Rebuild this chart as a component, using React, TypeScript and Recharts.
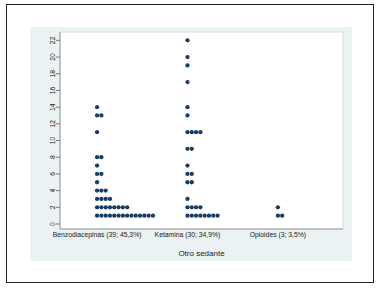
import React from "react";
import { ScatterChart, Scatter, XAxis, YAxis, ReferenceArea, Label } from "recharts";

const categories = ["Benzodiacepinas (39; 45,3%)", "Ketamina (30; 34,9%)", "Opioides (3; 3,5%)"];

const benzoValues = [1, 2, 3, 4, 5, 6, 7, 8, 11, 13, 14];
const benzoCounts = [14, 8, 4, 3, 1, 2, 1, 2, 1, 2, 1];

const ketaminaValues = [1, 2, 3, 5, 6, 7, 9, 11, 13, 14, 17, 19, 20, 22];
const ketaminaCounts = [8, 4, 1, 2, 2, 1, 2, 4, 1, 1, 1, 1, 1, 1];

const opioidesValues = [1, 2];
const opioidesCounts = [2, 1];

const yTicks = [0, 2, 4, 6, 8, 10, 12, 14, 16, 18, 20, 22];

const groups = [
  { values: benzoValues, counts: benzoCounts },
  { values: ketaminaValues, counts: ketaminaCounts },
  { values: opioidesValues, counts: opioidesCounts },
];

const points: { x: number; y: number; k: number }[] = [];
groups.forEach((g, gi) => {
  g.values.forEach((v, vi) => {
    for (let k = 0; k < g.counts[vi]; k++) {
      points.push({ x: gi + 1, y: v, k });
    }
  });
});

const DOT_COLOR = "#1a3d63";
const FONT = "'Liberation Sans', Arial, sans-serif";

const Dot = (props: any) => {
  const { cx, cy, payload } = props;
  if (cx == null || cy == null) return null;
  return <circle cx={cx + payload.k * 4.3} cy={cy} r={2.15} fill={DOT_COLOR} />;
};

const YTick = (props: any) => {
  const { x, y, payload } = props;
  return (
    <text
      x={x}
      y={y}
      transform={`rotate(-90, ${x}, ${y})`}
      textAnchor="middle"
      fontSize={6.8}
      fill="#222"
      fontFamily={FONT}
    >
      {payload.value}
    </text>
  );
};

export default function App() {
  return (
    <div style={{ position: "absolute", left: 0, top: 0, width: 380, height: 291, background: "#fff" }}>
      <div
        style={{
          position: "absolute",
          left: 6,
          top: 4,
          width: 368,
          height: 279,
          border: "1px solid #222",
          boxSizing: "border-box",
        }}
      />
      <div
        style={{
          position: "absolute",
          left: 30,
          top: 27,
          width: 322,
          height: 234,
          background: "#eaf2f3",
        }}
      />
      <div style={{ position: "absolute", left: 0, top: 0 }}>
        <ScatterChart width={380} height={291} margin={{ top: 32, right: 37, bottom: 32, left: 0 }}>
          <ReferenceArea
            x1={0.59}
            x2={3.72}
            y1={-0.6}
            y2={23}
            fill="#ffffff"
            fillOpacity={1}
            stroke="#d8dcdc"
            strokeWidth={1}
            ifOverflow="extendDomain"
          />
          <XAxis
            type="number"
            dataKey="x"
            domain={[0.59, 3.72]}
            ticks={[1, 2, 3]}
            interval={0}
            tickFormatter={(v: number) => categories[v - 1]}
            tickLine={false}
            tickSize={0}
            axisLine={{ stroke: "#9a9a9a" }}
            tick={{ fontSize: 6.8, fill: "#222", fontFamily: FONT }}
            tickMargin={3}
            height={30}
            allowDataOverflow
          >
            <Label
              value="Otro sedante"
              position="insideBottom"
              offset={3}
              style={{ fontSize: 8, fill: "#222", fontFamily: FONT }}
            />
          </XAxis>
          <YAxis
            type="number"
            dataKey="y"
            domain={[-0.6, 23]}
            ticks={yTicks}
            interval={0}
            width={60}
            tickSize={4}
            tickMargin={1}
            tickLine={{ stroke: "#777" }}
            axisLine={{ stroke: "#9a9a9a" }}
            tick={<YTick />}
            allowDataOverflow
          />
          <Scatter data={points} shape={<Dot />} isAnimationActive={false} />
        </ScatterChart>
      </div>
    </div>
  );
}
